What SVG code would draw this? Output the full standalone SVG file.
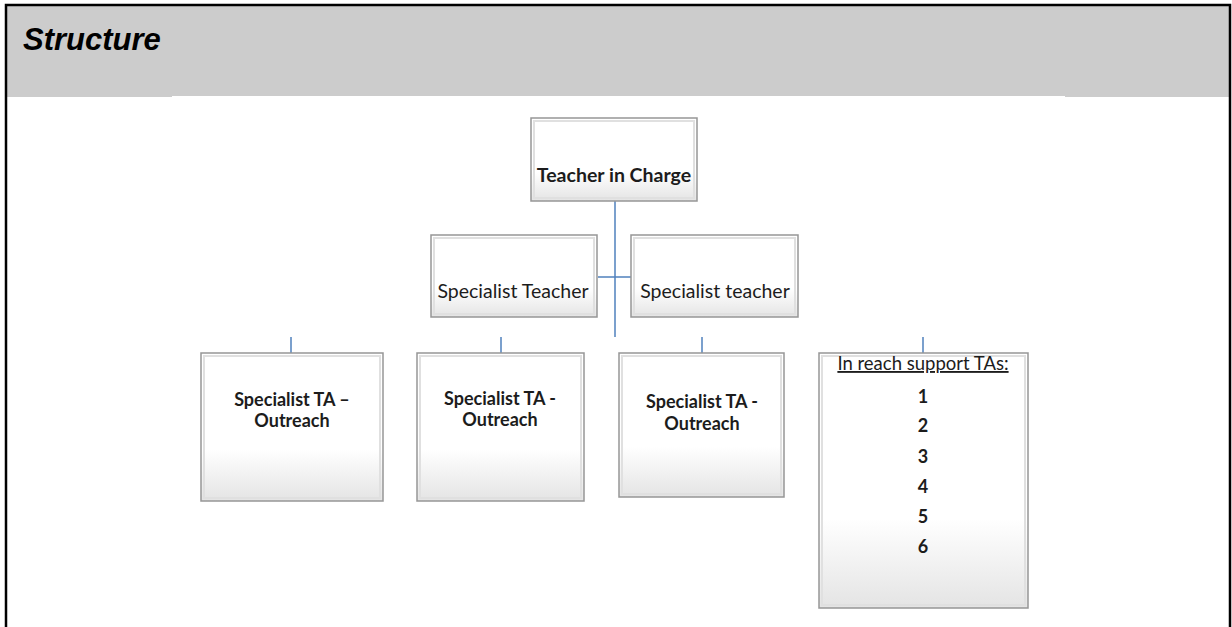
<svg xmlns="http://www.w3.org/2000/svg" width="1232" height="627" viewBox="0 0 1232 627">
<style>
.node rect.box{fill:url(#g);stroke:#969696;stroke-width:1.5}
.node rect.bev{fill:none;stroke:#e0e0e0;stroke-width:2}
.t{font-family:Lato,"Liberation Sans",sans-serif;fill:#1c1c1c;text-anchor:middle}
.b{font-weight:bold}
.conn line{stroke:#4f81bd;stroke-width:1.5}
</style>
<defs>
<linearGradient id="g" x1="0" y1="0" x2="0" y2="1">
<stop offset="0" stop-color="#ffffff"/>
<stop offset="0.65" stop-color="#ffffff"/>
<stop offset="1" stop-color="#e4e4e4"/>
</linearGradient>
</defs>
<rect x="0" y="0" width="1232" height="627" fill="#ffffff"/>
<rect x="6" y="5" width="1224" height="92" fill="#cccccc"/>
<rect x="172" y="96" width="893" height="2" fill="#ffffff"/>
<path d="M6 627 V5 H1230 V627" fill="none" stroke="#000" stroke-width="2.5"/>
<text x="23" y="50" font-family="'Liberation Sans',Arial,sans-serif" font-size="31" font-weight="bold" font-style="italic" fill="#000">Structure</text>

<g class="conn">
<line x1="615" y1="201" x2="615" y2="337"/>
<line x1="598" y1="277" x2="631" y2="277"/>
<line x1="291" y1="337" x2="291" y2="353"/>
<line x1="501" y1="337" x2="501" y2="353"/>
<line x1="702" y1="337" x2="702" y2="353"/>
<line x1="923" y1="337" x2="923" y2="353"/>
</g>

<g id="teacher-in-charge" class="node">
<rect class="box" x="531" y="118" width="166" height="83"/>
<rect class="bev" x="534" y="121" width="160" height="77"/>
<text class="t b" x="614" y="182" font-size="19.5">Teacher in Charge</text>
</g>
<g id="specialist-teacher-1" class="node">
<rect class="box" x="431" y="235" width="166" height="82"/>
<rect class="bev" x="434" y="238" width="160" height="76"/>
<text class="t" x="513" y="298" font-size="19.5">Specialist Teacher</text>
</g>
<g id="specialist-teacher-2" class="node">
<rect class="box" x="631" y="235" width="167" height="82"/>
<rect class="bev" x="634" y="238" width="161" height="76"/>
<text class="t" x="715" y="298" font-size="19.5">Specialist teacher</text>
</g>
<g id="ta-outreach-1" class="node">
<rect class="box" x="201" y="353" width="182" height="148"/>
<rect class="bev" x="204" y="356" width="176" height="142"/>
<text class="t b" x="292" y="406" font-size="18">Specialist TA –</text>
<text class="t b" x="292" y="427" font-size="18">Outreach</text>
</g>
<g id="ta-outreach-2" class="node">
<rect class="box" x="417" y="353" width="167" height="148"/>
<rect class="bev" x="420" y="356" width="161" height="142"/>
<text class="t b" x="500" y="405" font-size="18">Specialist TA -</text>
<text class="t b" x="500" y="426" font-size="18">Outreach</text>
</g>
<g id="ta-outreach-3" class="node">
<rect class="box" x="619" y="353" width="165" height="144"/>
<rect class="bev" x="622" y="356" width="159" height="138"/>
<text class="t b" x="702" y="408" font-size="18">Specialist TA -</text>
<text class="t b" x="702" y="430" font-size="18">Outreach</text>
</g>
<g id="in-reach-tas" class="node">
<rect class="box" x="819" y="353" width="209" height="255"/>
<rect class="bev" x="822" y="356" width="203" height="249"/>
<text class="t" x="923" y="370" font-size="18.5" text-decoration="underline">In reach support TAs:</text>
<text class="t b" x="923" y="403" font-size="18">1</text>
<text class="t b" x="923" y="432" font-size="18">2</text>
<text class="t b" x="923" y="463" font-size="18">3</text>
<text class="t b" x="923" y="493" font-size="18">4</text>
<text class="t b" x="923" y="523" font-size="18">5</text>
<text class="t b" x="923" y="553" font-size="18">6</text>
</g>
</svg>
